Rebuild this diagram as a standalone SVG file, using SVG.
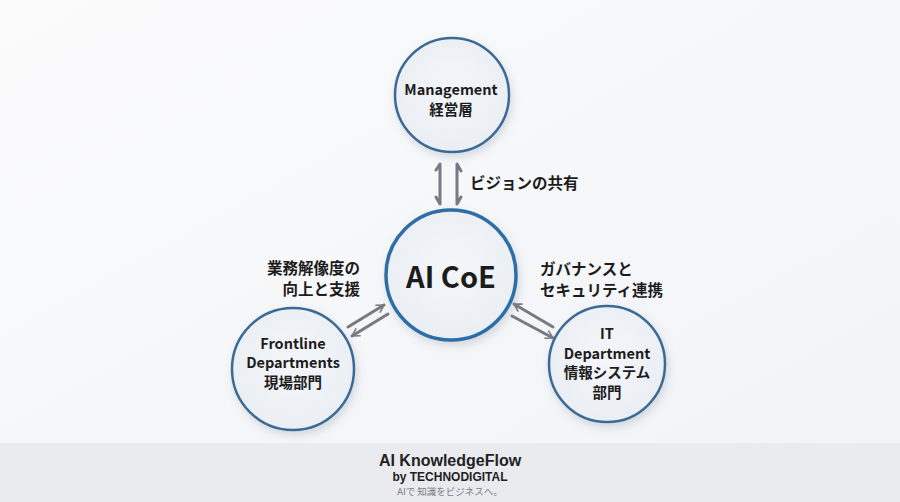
<svg xmlns="http://www.w3.org/2000/svg" width="900" height="502" viewBox="0 0 900 502">
<defs>
<linearGradient id="bg" x1="0" y1="0" x2="1" y2="1">
<stop offset="0" stop-color="#fbfbfc"/>
<stop offset="1" stop-color="#f1f3f6"/>
</linearGradient>
<radialGradient id="cf" cx="0.5" cy="0.45" r="0.6">
<stop offset="0" stop-color="#f4f6f9"/>
<stop offset="1" stop-color="#e9eef4"/>
</radialGradient>
<filter id="sh" x="-30%" y="-30%" width="160%" height="160%">
<feDropShadow dx="2" dy="4" stdDeviation="4" flood-color="#6b7a90" flood-opacity="0.25"/>
</filter>
<marker id="ah" viewBox="0 0 10 10" refX="8" refY="5" markerWidth="10" markerHeight="10" markerUnits="userSpaceOnUse" orient="auto">
<path d="M1,1 L8,5 L1,9" fill="none" stroke="#767b82" stroke-width="1.6" stroke-linecap="round" stroke-linejoin="round"/>
</marker>
<style>
.node{fill:url(#cf);stroke:#3b6b96;stroke-width:2.5;filter:url(#sh)}
.core{fill:url(#cf);stroke:#2f6ea6;stroke-width:3.5;filter:url(#sh)}
.t{font-family:"Noto Sans CJK JP","Noto Sans",sans-serif;font-weight:700;fill:#1c1c1c;text-anchor:middle;font-size:14.5px}
.lbl{font-family:"Noto Sans CJK JP","Noto Sans",sans-serif;font-weight:700;fill:#1c1c1c;font-size:15.5px}
.ar{fill:none;stroke:#767b82;stroke-width:3;stroke-linecap:round;stroke-linejoin:round}
.ft{font-family:"Liberation Sans",Arial,sans-serif;font-weight:700;fill:#222;text-anchor:middle}
</style>
</defs>
<rect width="900" height="502" fill="url(#bg)"/>
<rect x="0" y="443" width="900" height="59" fill="#e9ebef"/>

<g id="connectors">
<path class="ar" d="M436,170 L440,164 L440,204 L436,197"/>
<path class="ar" d="M461,171 L457,164 L457,204 L461,197"/>
<line class="ar" x1="348" y1="327" x2="384" y2="305" marker-end="url(#ah)"/>
<line class="ar" x1="388" y1="314" x2="352" y2="336" marker-end="url(#ah)"/>
<line class="ar" x1="553" y1="327" x2="514" y2="304" marker-end="url(#ah)"/>
<line class="ar" x1="512" y1="316" x2="553" y2="338" marker-end="url(#ah)"/>
</g>

<g id="labels">
<text class="lbl" x="470" y="189">ビジョンの共有</text>
<text class="lbl" x="360" y="274" text-anchor="end">業務解像度の</text>
<text class="lbl" x="360" y="295" text-anchor="end">向上と支援</text>
<text class="lbl" x="540" y="275">ガバナンスと</text>
<text class="lbl" x="540" y="296">セキュリティ連携</text>
</g>

<g id="management">
<circle class="node" cx="452" cy="95" r="57"/>
<text class="t" x="451" y="95">Management</text>
<text class="t" x="451" y="115">経営層</text>
</g>

<g id="aicoe">
<circle class="core" cx="451" cy="275" r="65"/>
<text class="t" x="451" y="288" style="font-size:29px">AI CoE</text>
</g>

<g id="frontline">
<circle class="node" cx="293" cy="369" r="61"/>
<text class="t" x="293" y="349">Frontline</text>
<text class="t" x="293" y="368">Departments</text>
<text class="t" x="293" y="388">現場部門</text>
</g>

<g id="it">
<circle class="node" cx="607" cy="364" r="58"/>
<text class="t" x="607" y="339">IT</text>
<text class="t" x="607" y="359">Department</text>
<text class="t" x="607" y="378">情報システム</text>
<text class="t" x="607" y="398">部門</text>
</g>

<g id="footer">
<text class="ft" x="450" y="466" font-size="16">AI KnowledgeFlow</text>
<text class="ft" x="450" y="481" font-size="12">by TECHNODIGITAL</text>
<text x="450" y="495" font-size="9.5" fill="#7a7d82" text-anchor="middle" font-family="Noto Sans CJK JP,Noto Sans,sans-serif">AIで 知識をビジネスへ。</text>
</g>
</svg>
